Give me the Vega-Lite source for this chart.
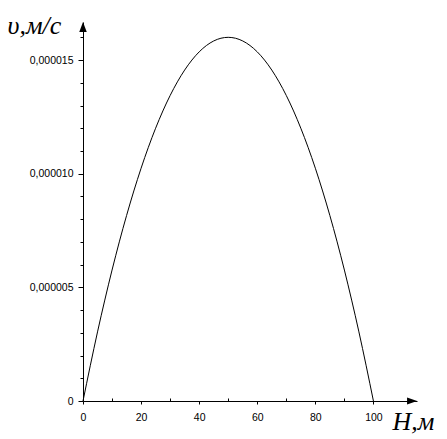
{
  "$schema": "https://vega.github.io/schema/vega-lite/v6.json",
  "width": 334,
  "height": 379,
  "autosize": {"type": "none"},
  "padding": {"left": 83, "top": 22, "right": 30, "bottom": 38},
  "background": "white",
  "config": {"view": {"stroke": null}},
  "datasets": {
    "curve": [
      {"H": 0, "v": 0},
      {"H": 5, "v": 3.04e-6},
      {"H": 10, "v": 5.76e-6},
      {"H": 15, "v": 8.16e-6},
      {"H": 20, "v": 1.024e-5},
      {"H": 25, "v": 1.2e-5},
      {"H": 30, "v": 1.344e-5},
      {"H": 35, "v": 1.456e-5},
      {"H": 40, "v": 1.536e-5},
      {"H": 45, "v": 1.584e-5},
      {"H": 50, "v": 1.6e-5},
      {"H": 55, "v": 1.584e-5},
      {"H": 60, "v": 1.536e-5},
      {"H": 65, "v": 1.456e-5},
      {"H": 70, "v": 1.344e-5},
      {"H": 75, "v": 1.2e-5},
      {"H": 80, "v": 1.024e-5},
      {"H": 85, "v": 8.16e-6},
      {"H": 90, "v": 5.76e-6},
      {"H": 95, "v": 3.04e-6},
      {"H": 100, "v": 0}
    ],
    "arrows": [
      {"H": 0, "v": 1.645e-5, "dir": "up"},
      {"H": 113.3, "v": 0, "dir": "right"}
    ]
  },
  "layer": [
    {
      "data": {"name": "curve"},
      "mark": {"type": "line", "color": "black", "strokeWidth": 1, "interpolate": "monotone", "clip": false},
      "encoding": {
        "x": {
          "field": "H", "type": "quantitative",
          "scale": {"domain": [0, 115], "nice": false, "zero": false},
          "axis": {
            "values": [0, 10, 20, 30, 40, 50, 60, 70, 80, 90, 100],
            "tickCount": 100,
            "labelExpr": "datum.value % 20 == 0 ? datum.label : ''",
            "labelOverlap": false,
            "grid": false,
            "domainColor": "black",
            "tickColor": "black",
            "tickSize": {"condition": {"test": "datum.value % 20 == 0", "value": 3}, "value": -3},
            "labelPadding": 8,
            "labelFont": "Liberation Sans",
            "labelFontSize": 10.5,
            "labelColor": "black",
            "labelFlush": false,
            "title": "H,м",
            "titleFont": "Liberation Serif",
            "titleFontStyle": "italic",
            "titleFontWeight": "normal",
            "titleFontSize": 26,
            "titleColor": "black",
            "titleAlign": "left",
            "titleBaseline": "alphabetic",
            "titleAnchor": null,
            "titleX": 309,
            "titleY": 28
          }
        },
        "y": {
          "field": "v", "type": "quantitative",
          "scale": {"domain": [0, 1.6674e-5], "nice": false, "zero": false},
          "axis": {
            "values": [0, 1e-6, 2e-6, 3e-6, 4e-6, 5e-6, 6e-6, 7e-6, 8e-6, 9e-6, 1e-5, 1.1e-5, 1.2e-5, 1.3e-5, 1.4e-5, 1.5e-5, 1.6e-5],
            "tickCount": 100,
            "labelExpr": "datum.value == 0 ? '0' : (round(datum.value*1e6) % 5 == 0 ? replace(format(datum.value, '.6f'), '.', ',') : '')",
            "labelOverlap": false,
            "grid": false,
            "domainColor": "black",
            "tickColor": "black",
            "tickSize": {"condition": {"test": "round(datum.value*1e6) % 5 == 0", "value": 5}, "value": 3},
            "labelPadding": 5,
            "labelFont": "Liberation Sans",
            "labelFontSize": 10.5,
            "labelColor": "black",
            "labelFlush": false,
            "title": "υ,м/с",
            "titleFont": "Liberation Serif",
            "titleFontStyle": "italic",
            "titleFontWeight": "normal",
            "titleFontSize": 26,
            "titleColor": "black",
            "titleAngle": 0,
            "titleAlign": "left",
            "titleBaseline": "alphabetic",
            "titleAnchor": null,
            "titleX": -76,
            "titleY": 11
          }
        }
      }
    },
    {
      "data": {"name": "arrows"},
      "mark": {"type": "point", "filled": true, "color": "black", "opacity": 1, "size": 100, "clip": false},
      "encoding": {
        "x": {"field": "H", "type": "quantitative"},
        "y": {"field": "v", "type": "quantitative"},
        "shape": {
          "field": "dir", "type": "nominal",
          "scale": {"domain": ["up", "right"], "range": ["M0,-1L0.75,1L-0.75,1Z", "M1,0L-1,-0.7L-1,0.7Z"]},
          "legend": null
        }
      }
    }
  ]
}
